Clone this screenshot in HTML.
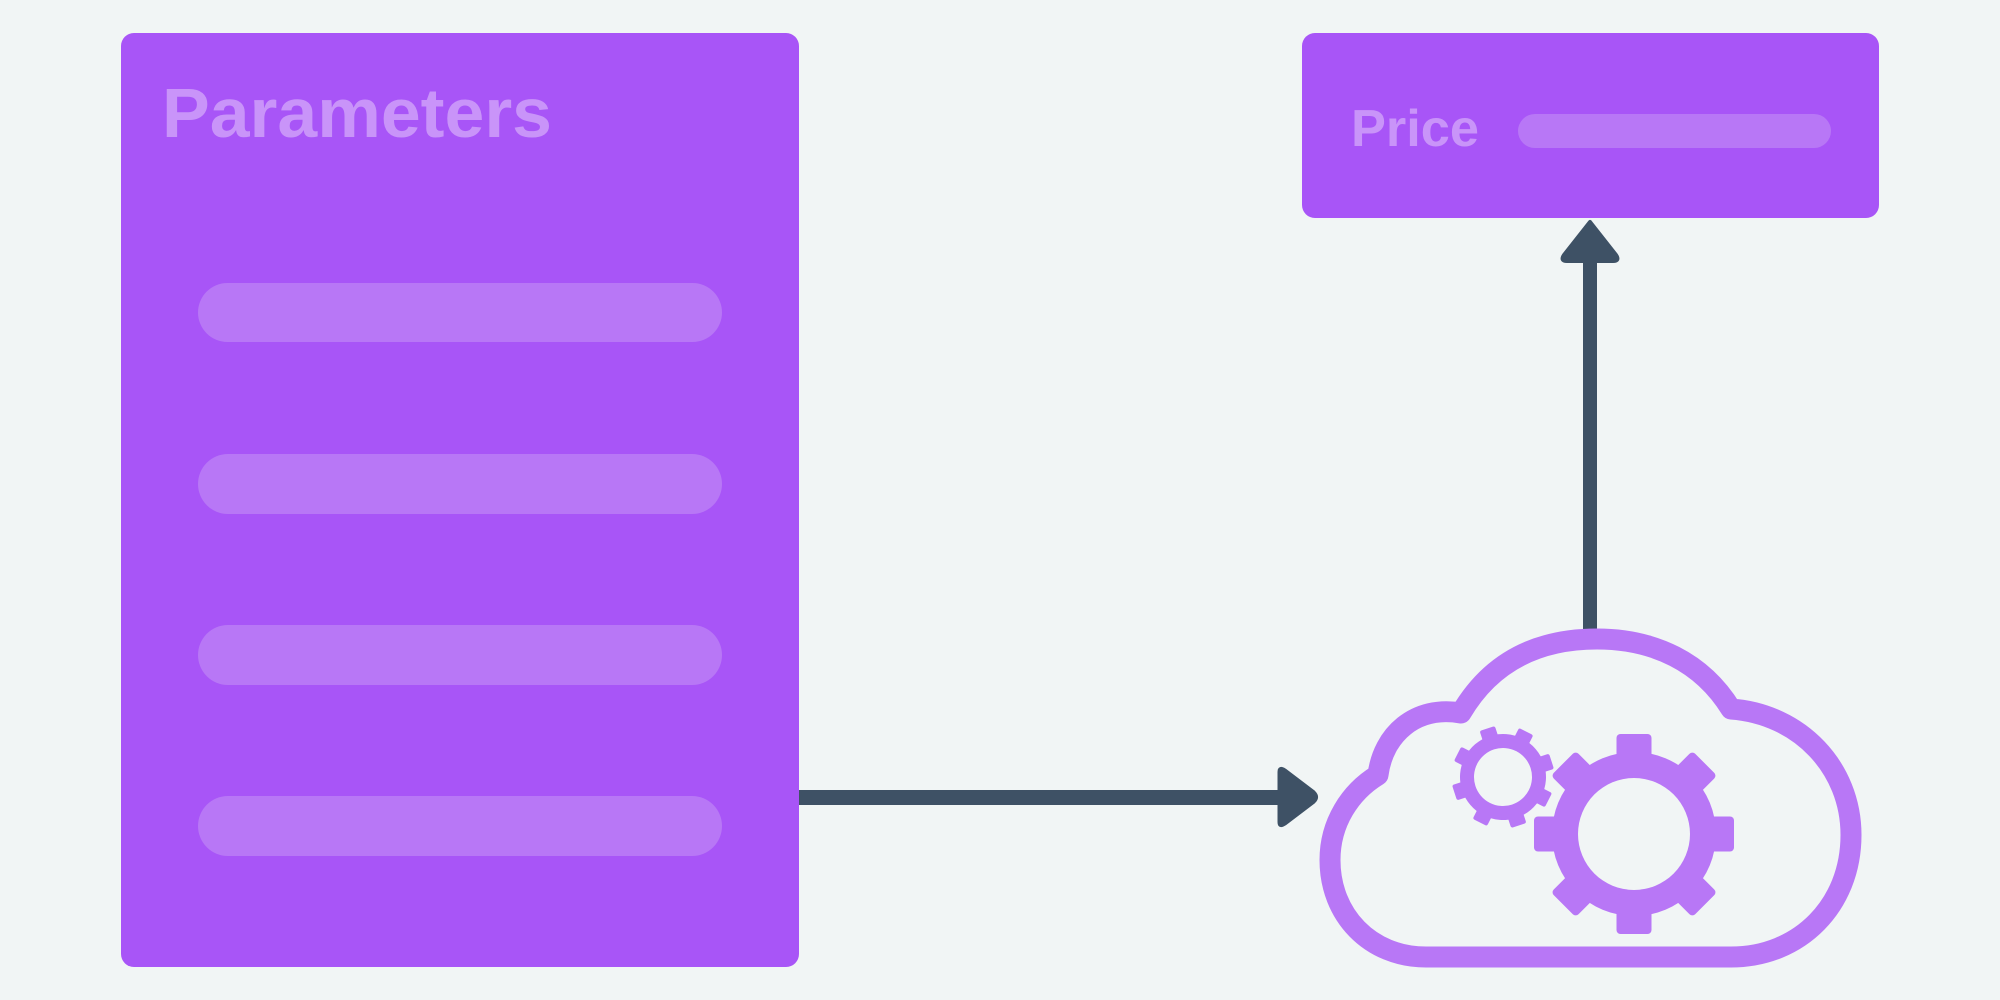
<!DOCTYPE html>
<html><head><meta charset="utf-8"><style>html,body{margin:0;padding:0;background:#f1f5f5;}svg{display:block}</style></head>
<body>
<svg width="2000" height="1000" viewBox="0 0 2000 1000" xmlns="http://www.w3.org/2000/svg">
<rect width="2000" height="1000" fill="#f1f5f5"/>
<!-- Parameters panel -->
<rect x="121" y="33" width="678" height="934" rx="13" fill="#a855f7"/>
<text x="162" y="137" font-family="Liberation Sans, sans-serif" font-weight="bold" font-size="70" fill="#c994f9" textLength="390" lengthAdjust="spacingAndGlyphs">Parameters</text>
<rect x="198" y="283" width="524" height="59" rx="29.5" fill="#b877f6"/>
<rect x="198" y="454" width="524" height="60" rx="30" fill="#b877f6"/>
<rect x="198" y="625" width="524" height="60" rx="30" fill="#b877f6"/>
<rect x="198" y="796" width="524" height="60" rx="30" fill="#b877f6"/>
<!-- Price box -->
<rect x="1302" y="33" width="577" height="185" rx="13" fill="#a855f7"/>
<text x="1351" y="146" font-family="Liberation Sans, sans-serif" font-weight="bold" font-size="52" fill="#c994f9" textLength="128" lengthAdjust="spacingAndGlyphs">Price</text>
<rect x="1518" y="114" width="313" height="34" rx="17" fill="#b877f6"/>
<!-- Up arrow -->
<rect x="1583" y="255" width="14" height="374" fill="#3e5165"/>
<path d="M1590 222 L1616 255 Q1620 261 1613 261 L1567 261 Q1560 261 1564 255 Z" fill="#3e5165" stroke="#3e5165" stroke-width="4" stroke-linejoin="round"/>
<!-- Horizontal arrow -->
<rect x="799" y="790" width="482" height="15" fill="#3e5165"/>
<path d="M1279 772 Q1279 766 1285 770 L1314 792 Q1319 797 1314 802 L1285 824 Q1279 828 1279 822 Z" fill="#3e5165" stroke="#3e5165" stroke-width="3" stroke-linejoin="round"/>
<!-- Cloud -->
<path d="M1426 957 C1370 957 1330 915 1330 860 C1330 823 1350 792 1378 775 C1383 735 1415 705 1461 713 C1492 660 1540 639 1597 639 C1654 639 1702 662 1731 709 C1800 714 1851 768 1851 835 C1851 905 1800 957 1731 957 Z" fill="none" stroke="#b877f6" stroke-width="21" stroke-linejoin="round"/>
<!-- Big gear -->
<g transform="translate(1634,834)" fill="#b877f6">
<circle r="82"/>
<rect x="-17.5" y="-100" width="35" height="40" rx="4"/>
<rect x="-17.5" y="-100" width="35" height="40" rx="4" transform="rotate(45)"/>
<rect x="-17.5" y="-100" width="35" height="40" rx="4" transform="rotate(90)"/>
<rect x="-17.5" y="-100" width="35" height="40" rx="4" transform="rotate(135)"/>
<rect x="-17.5" y="-100" width="35" height="40" rx="4" transform="rotate(180)"/>
<rect x="-17.5" y="-100" width="35" height="40" rx="4" transform="rotate(225)"/>
<rect x="-17.5" y="-100" width="35" height="40" rx="4" transform="rotate(270)"/>
<rect x="-17.5" y="-100" width="35" height="40" rx="4" transform="rotate(315)"/>
<circle r="56" fill="#f1f5f5"/>
</g>
<!-- Small gear -->
<g transform="translate(1503,777) rotate(27)" fill="#b877f6">
<circle r="43"/>
<rect x="-8" y="-51" width="16" height="20" rx="2"/>
<rect x="-8" y="-51" width="16" height="20" rx="2" transform="rotate(45)"/>
<rect x="-8" y="-51" width="16" height="20" rx="2" transform="rotate(90)"/>
<rect x="-8" y="-51" width="16" height="20" rx="2" transform="rotate(135)"/>
<rect x="-8" y="-51" width="16" height="20" rx="2" transform="rotate(180)"/>
<rect x="-8" y="-51" width="16" height="20" rx="2" transform="rotate(225)"/>
<rect x="-8" y="-51" width="16" height="20" rx="2" transform="rotate(270)"/>
<rect x="-8" y="-51" width="16" height="20" rx="2" transform="rotate(315)"/>
<circle r="29" fill="#f1f5f5"/>
</g>
</svg>
</body></html>
